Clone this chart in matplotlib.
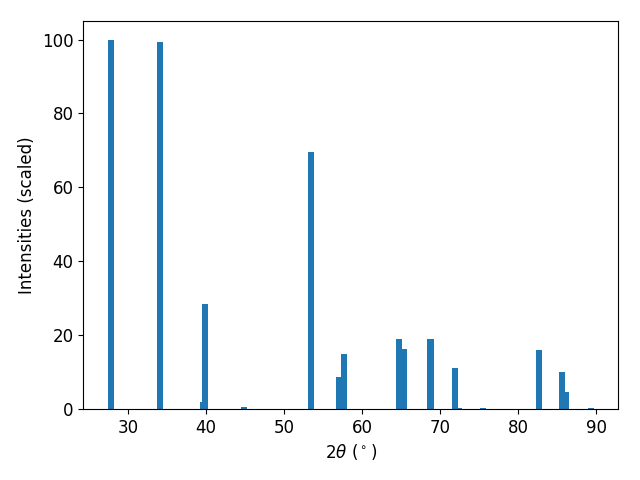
import matplotlib
matplotlib.use("Agg")
import matplotlib.pyplot as plt

two_theta = [27.8, 34.08, 39.6, 39.85, 44.85, 53.5, 57.04, 57.67, 64.73, 65.35,
             68.8, 71.96, 72.4, 75.5, 82.67, 85.6, 86.1, 89.33]
intensities = [100.0, 99.3, 2.0, 28.5, 0.55, 69.6, 8.6, 14.9, 19.0, 16.3,
               19.0, 11.1, 0.3, 0.35, 16.0, 10.0, 4.6, 0.3]

fig, ax = plt.subplots(figsize=(6.4, 4.8), dpi=100)
ax.bar(two_theta, intensities, width=0.8)
ax.set_xlabel(r"$2\theta$ ($^\circ$)", fontsize=12)
ax.set_ylabel("Intensities (scaled)", fontsize=12)
ax.tick_params(labelsize=12)
fig.subplots_adjust(left=0.130, right=0.966, top=0.956, bottom=0.148)
fig.savefig("out.png", dpi=100)
